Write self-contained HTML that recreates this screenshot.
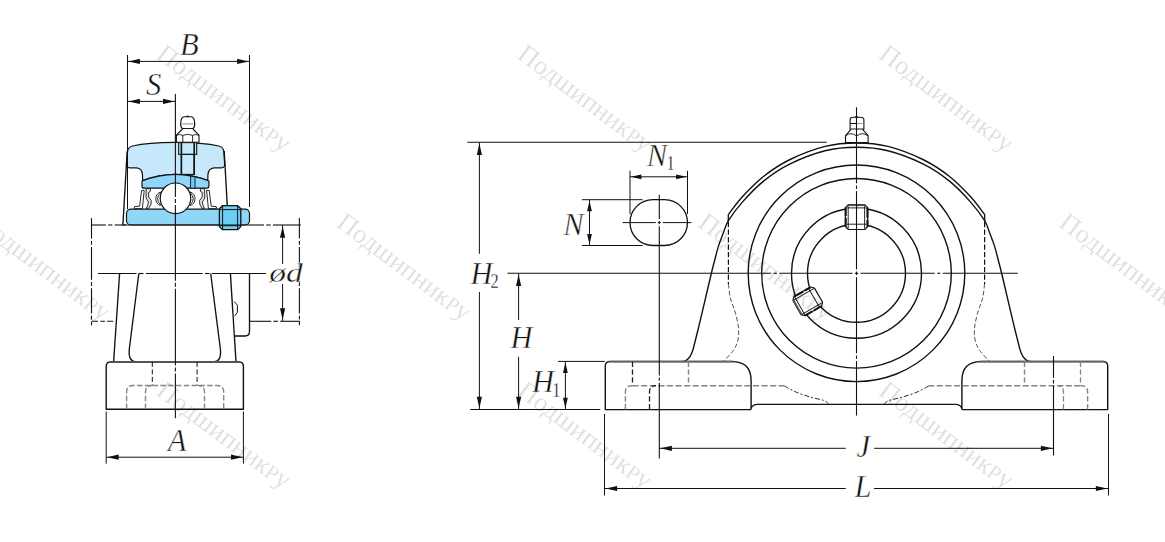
<!DOCTYPE html>
<html><head><meta charset="utf-8"><title>Pillow block dimensions</title>
<style>
html,body{margin:0;padding:0;background:#fff;}
body{width:1165px;height:542px;overflow:hidden;font-family:"Liberation Serif",serif;}
svg{display:block;}
</style></head><body>
<svg width="1165" height="542" viewBox="0 0 1165 542">
<rect width="1165" height="542" fill="#fff"/>
<path d="M127.5,152.5 Q127.5,147.2 132.5,146 C140,144.3 155,142.5 175.4,142.4 C196,142.5 211,144.3 218.8,146 Q223.8,147.2 223.9,152.5 L224.7,164.4 Q224.8,167.8 221.4,167.8 L214.2,167.8 Q208.2,168.2 207.9,175 L207.8,180.5 Q175.5,168 142.6,180.5 L142.5,175 Q142.2,168.2 136.6,167.8 L129.8,167.8 Q126.4,167.8 126.5,164.4 Z" stroke="#111" stroke-width="1.2" fill="#c6e8fb" stroke-linejoin="round" stroke-linecap="butt"/>
<rect x="178.7" y="142.6" width="18" height="11.8" fill="#c6e8fb" stroke="#111" stroke-width="1.1"/>
<rect x="181.4" y="154.4" width="12.8" height="20" fill="#c6e8fb" stroke="#111" stroke-width="1.1"/>
<line x1="181.4" y1="142.6" x2="181.4" y2="175" stroke="#111" stroke-width="1.6" stroke-linecap="butt"/>
<line x1="194.2" y1="142.6" x2="194.2" y2="175" stroke="#111" stroke-width="1.6" stroke-linecap="butt"/>
<path d="M142,186.5 L142,181 Q175.5,167.6 208.9,181 L208.9,186.5 Q208.9,188.2 207,188.2 L144,188.2 Q142,188.2 142,186.5 Z" stroke="#111" stroke-width="1.2" fill="#8fd6f8" stroke-linejoin="round" stroke-linecap="butt"/>
<rect x="190.6" y="176.6" width="4.4" height="11.6" fill="#6ccdf5" stroke="#111" stroke-width="0.9"/>
<rect x="126.5" y="209.2" width="123" height="15.8" rx="4.5" ry="4.5" fill="#8fd6f8" stroke="#111" stroke-width="1.2"/>
<polygon points="134.20,208.60 134.60,206.60 139.60,206.20 141.60,190.40 144.20,190.40 142.40,208.60" fill="#fff" stroke="#111" stroke-width="0.9" stroke-linejoin="round"/>
<polygon points="146.20,188.60 150.60,188.60 150.20,191.50 148.60,192.40 148.60,197.00 151.20,200.50 151.00,204.50 148.60,208.40 146.40,208.40 148.20,204.00 148.20,201.50 146.00,198.00 146.20,188.60" fill="#e6e6e6" stroke="#111" stroke-width="0.9" stroke-linejoin="round"/>
<path d="M160.30,192 A7.4,7.4 0 0 0 160.30,205.6 L160.30,204.3 A7,7 0 0 1 160.30,193.3 Z" fill="#fff" stroke="#111" stroke-width="0.9" stroke-linejoin="round"/>
<polygon points="216.60,208.60 216.20,206.60 211.20,206.20 209.20,190.40 206.60,190.40 208.40,208.60" fill="#fff" stroke="#111" stroke-width="0.9" stroke-linejoin="round"/>
<polygon points="204.60,188.60 200.20,188.60 200.60,191.50 202.20,192.40 202.20,197.00 199.60,200.50 199.80,204.50 202.20,208.40 204.40,208.40 202.60,204.00 202.60,201.50 204.80,198.00 204.60,188.60" fill="#e6e6e6" stroke="#111" stroke-width="0.9" stroke-linejoin="round"/>
<path d="M190.50,192 A7.4,7.4 0 0 1 190.50,205.6 L190.50,204.3 A7,7 0 0 0 190.50,193.3 Z" fill="#fff" stroke="#111" stroke-width="0.9" stroke-linejoin="round"/>
<circle cx="175.5" cy="198.3" r="15.3" stroke="#111" stroke-width="1.2" fill="#fff"/>
<path d="M222.4,205.7 L237.8,205.7 L240.8,208.7 L240.8,226.6 L237.8,229.6 L222.4,229.6 L219.4,226.6 L219.4,208.7 Z" stroke="#111" stroke-width="1.3" fill="#6ccdf5" stroke-linejoin="round" stroke-linecap="butt"/>
<line x1="222.6" y1="205.7" x2="222.6" y2="229.6" stroke="#111" stroke-width="1.0" stroke-linecap="butt"/>
<line x1="237.6" y1="205.7" x2="237.6" y2="229.6" stroke="#111" stroke-width="1.0" stroke-linecap="butt"/>
<line x1="219.4" y1="209.6" x2="240.8" y2="209.6" stroke="#111" stroke-width="1.0" stroke-linecap="butt"/>
<line x1="219.4" y1="225.7" x2="240.8" y2="225.7" stroke="#111" stroke-width="1.0" stroke-linecap="butt"/>
<path d="M182.5,128.8 Q180.1,126.5 180.79999999999998,122.5 Q181.1,117 184.2,116.8 L191.2,116.8 Q194.29999999999998,117 194.6,122.5 Q195.29999999999998,126.5 192.89999999999998,128.8 Z" stroke="#111" stroke-width="1.1" fill="#fff" stroke-linejoin="round" stroke-linecap="butt"/>
<path d="M186.1,116.8 Q187.7,115 189.29999999999998,116.8" stroke="#111" stroke-width="1.0" fill="none" stroke-linejoin="round" stroke-linecap="butt"/>
<line x1="182.2" y1="123.9" x2="193.2" y2="123.9" stroke="#999" stroke-width="1.2" stroke-linecap="butt"/>
<path d="M182.7,128.9 L192.7,128.9" stroke="#111" stroke-width="1.6" fill="none" stroke-linejoin="round" stroke-linecap="butt"/>
<path d="M182.5,129 L176.39999999999998,135.2 L176.39999999999998,142.2 L199.0,142.2 L199.0,135.2 L192.89999999999998,129" stroke="#111" stroke-width="1.1" fill="#fff" stroke-linejoin="round" stroke-linecap="butt"/>
<path d="M176.39999999999998,135.4 Q179.7,133.6 182.79999999999998,135.4 Q187.7,133.2 192.6,135.4 Q195.7,133.6 199.0,135.4" stroke="#111" stroke-width="0.9" fill="none" stroke-linejoin="round" stroke-linecap="butt"/>
<line x1="182.79999999999998" y1="135.4" x2="182.79999999999998" y2="142.2" stroke="#111" stroke-width="0.9" stroke-linecap="butt"/>
<line x1="192.6" y1="135.4" x2="192.6" y2="142.2" stroke="#111" stroke-width="0.9" stroke-linecap="butt"/>
<line x1="127.2" y1="151" x2="122.9" y2="225" stroke="#111" stroke-width="1.35" stroke-linecap="butt"/>
<line x1="224.2" y1="151" x2="227.3" y2="206" stroke="#111" stroke-width="1.35" stroke-linecap="butt"/>
<line x1="91.5" y1="225" x2="105.9" y2="225" stroke="#111" stroke-width="1.1" stroke-linecap="butt"/>
<line x1="108.2" y1="225" x2="112.39999999999999" y2="225" stroke="#111" stroke-width="1.1" stroke-linecap="butt"/>
<line x1="114.69999999999999" y1="225" x2="126" y2="225" stroke="#111" stroke-width="1.1" stroke-linecap="butt"/>
<line x1="249.5" y1="225" x2="264.0" y2="225" stroke="#111" stroke-width="1.1" stroke-linecap="butt"/>
<line x1="266.3" y1="225" x2="270.7" y2="225" stroke="#111" stroke-width="1.1" stroke-linecap="butt"/>
<line x1="273.0" y1="225" x2="300.8" y2="225" stroke="#111" stroke-width="1.1" stroke-linecap="butt"/>
<line x1="91.5" y1="218.1" x2="91.5" y2="238.6" stroke="#111" stroke-width="1.1" stroke-linecap="butt"/>
<line x1="91.5" y1="240.9" x2="91.5" y2="244.70000000000002" stroke="#111" stroke-width="1.1" stroke-linecap="butt"/>
<line x1="91.5" y1="247.00000000000003" x2="91.5" y2="279.8" stroke="#111" stroke-width="1.1" stroke-linecap="butt"/>
<line x1="91.5" y1="282.1" x2="91.5" y2="285.9" stroke="#111" stroke-width="1.1" stroke-linecap="butt"/>
<line x1="91.5" y1="288.2" x2="91.5" y2="313.40000000000003" stroke="#111" stroke-width="1.1" stroke-linecap="butt"/>
<line x1="91.5" y1="315.70000000000005" x2="91.5" y2="319.5" stroke="#111" stroke-width="1.1" stroke-linecap="butt"/>
<line x1="91.5" y1="321.8" x2="91.5" y2="325.3" stroke="#111" stroke-width="1.1" stroke-linecap="butt"/>
<line x1="299.4" y1="218.1" x2="299.4" y2="238.6" stroke="#111" stroke-width="1.1" stroke-linecap="butt"/>
<line x1="299.4" y1="240.9" x2="299.4" y2="244.70000000000002" stroke="#111" stroke-width="1.1" stroke-linecap="butt"/>
<line x1="299.4" y1="247.00000000000003" x2="299.4" y2="279.8" stroke="#111" stroke-width="1.1" stroke-linecap="butt"/>
<line x1="299.4" y1="282.1" x2="299.4" y2="285.9" stroke="#111" stroke-width="1.1" stroke-linecap="butt"/>
<line x1="299.4" y1="288.2" x2="299.4" y2="313.40000000000003" stroke="#111" stroke-width="1.1" stroke-linecap="butt"/>
<line x1="299.4" y1="315.70000000000005" x2="299.4" y2="319.5" stroke="#111" stroke-width="1.1" stroke-linecap="butt"/>
<line x1="299.4" y1="321.8" x2="299.4" y2="325.3" stroke="#111" stroke-width="1.1" stroke-linecap="butt"/>
<line x1="91.5" y1="321.3" x2="113.8" y2="321.3" stroke="#111" stroke-width="1.1" stroke-dasharray="6.5 2.3 4.6 2.3 6 2.3" stroke-linecap="butt"/>
<line x1="250" y1="321.3" x2="271.2" y2="321.3" stroke="#111" stroke-width="1.1" stroke-linecap="butt"/>
<line x1="273.5" y1="321.3" x2="277.9" y2="321.3" stroke="#111" stroke-width="1.1" stroke-linecap="butt"/>
<line x1="280.2" y1="321.3" x2="300" y2="321.3" stroke="#111" stroke-width="1.1" stroke-linecap="butt"/>
<line x1="122.5" y1="225" x2="250" y2="225" stroke="#111" stroke-width="1.2" stroke-linecap="butt"/>
<line x1="98" y1="273.5" x2="136.49999999999997" y2="273.5" stroke="#111" stroke-width="1.1" stroke-linecap="butt"/>
<line x1="138.89999999999998" y1="273.5" x2="143.5" y2="273.5" stroke="#111" stroke-width="1.1" stroke-linecap="butt"/>
<line x1="145.9" y1="273.5" x2="202.49999999999997" y2="273.5" stroke="#111" stroke-width="1.1" stroke-linecap="butt"/>
<line x1="204.89999999999998" y1="273.5" x2="209.5" y2="273.5" stroke="#111" stroke-width="1.1" stroke-linecap="butt"/>
<line x1="211.9" y1="273.5" x2="266" y2="273.5" stroke="#111" stroke-width="1.1" stroke-linecap="butt"/>
<line x1="119.6" y1="273.5" x2="113.6" y2="361.9" stroke="#111" stroke-width="1.35" stroke-linecap="butt"/>
<line x1="230.4" y1="273.5" x2="236" y2="361.9" stroke="#111" stroke-width="1.35" stroke-linecap="butt"/>
<path d="M138.8,273.5 L129.2,350 Q128.4,361.9 136.5,361.9" stroke="#111" stroke-width="1.35" fill="none" stroke-linejoin="round" stroke-linecap="butt"/>
<path d="M210.7,273.5 L220.5,350 Q221.4,361.9 213.4,361.9" stroke="#111" stroke-width="1.35" fill="none" stroke-linejoin="round" stroke-linecap="butt"/>
<path d="M249.5,273.5 L249.5,331.5 Q249.5,336 245,336 L234.6,336" stroke="#111" stroke-width="1.35" fill="none" stroke-linejoin="round" stroke-linecap="butt"/>
<path d="M234.2,301.6 L237.4,305.2 L237.4,312.2 L234.9,315.8" stroke="#111" stroke-width="1.0" fill="none" stroke-linejoin="round" stroke-linecap="butt"/>
<path d="M106.2,409.2 L106.2,366.5 Q106.2,361.9 110.8,361.9 L238.8,361.9 Q243.4,361.9 243.4,366.5 L243.4,409.2 Z" stroke="#111" stroke-width="1.4" fill="none" stroke-linejoin="round" stroke-linecap="butt"/>
<line x1="110" y1="361.9" x2="239.6" y2="361.9" stroke="#555" stroke-width="2.0" stroke-linecap="butt"/>
<line x1="152.3" y1="361.9" x2="152.3" y2="385.5" stroke="#111" stroke-width="1.0" stroke-dasharray="5 2.5" stroke-linecap="butt"/>
<line x1="197.1" y1="361.9" x2="197.1" y2="385.5" stroke="#111" stroke-width="1.0" stroke-dasharray="5 2.5" stroke-linecap="butt"/>
<path d="M126.6,409 L126.6,392 Q126.6,385.5 133,385.5 L217.3,385.5 Q223.7,385.5 223.7,392 L223.7,409" stroke="#858585" stroke-width="1.4" fill="none" stroke-dasharray="5.4 2.4" stroke-linejoin="round" stroke-linecap="butt"/>
<path d="M145.5,409 L145.5,392 Q145.5,385.5 152,385.5" stroke="#858585" stroke-width="1.4" fill="none" stroke-dasharray="5.4 2.4" stroke-linejoin="round" stroke-linecap="butt"/>
<path d="M204.5,409 L204.5,392 Q204.5,385.5 198,385.5" stroke="#858585" stroke-width="1.4" fill="none" stroke-dasharray="5.4 2.4" stroke-linejoin="round" stroke-linecap="butt"/>
<line x1="175.4" y1="94" x2="175.4" y2="197.0" stroke="#111" stroke-width="1.1" stroke-linecap="butt"/>
<line x1="175.4" y1="199.0" x2="175.4" y2="203.0" stroke="#111" stroke-width="1.1" stroke-linecap="butt"/>
<line x1="175.4" y1="205.0" x2="175.4" y2="280.7" stroke="#111" stroke-width="1.1" stroke-linecap="butt"/>
<line x1="175.4" y1="282.7" x2="175.4" y2="286.7" stroke="#111" stroke-width="1.1" stroke-linecap="butt"/>
<line x1="175.4" y1="288.7" x2="175.4" y2="365.5" stroke="#111" stroke-width="1.1" stroke-linecap="butt"/>
<line x1="175.4" y1="367.5" x2="175.4" y2="371.5" stroke="#111" stroke-width="1.1" stroke-linecap="butt"/>
<line x1="175.4" y1="373.5" x2="175.4" y2="418.3" stroke="#111" stroke-width="1.1" stroke-linecap="butt"/>
<line x1="127.5" y1="55" x2="127.5" y2="209" stroke="#111" stroke-width="1.0" stroke-linecap="butt"/>
<line x1="249.5" y1="55" x2="249.5" y2="207" stroke="#111" stroke-width="1.0" stroke-linecap="butt"/>
<line x1="127.5" y1="61.4" x2="249.5" y2="61.4" stroke="#111" stroke-width="1.0" stroke-linecap="butt"/>
<polygon points="128.40,61.40 139.90,58.80 139.90,64.00" fill="#111"/>
<polygon points="248.60,61.40 237.10,64.00 237.10,58.80" fill="#111"/>
<line x1="127.5" y1="101.4" x2="175.4" y2="101.4" stroke="#111" stroke-width="1.0" stroke-linecap="butt"/>
<polygon points="128.40,101.40 139.90,98.80 139.90,104.00" fill="#111"/>
<polygon points="174.50,101.40 163.00,104.00 163.00,98.80" fill="#111"/>
<text x="179.9" y="54.7" font-family="'Liberation Serif', serif" font-style="italic" font-size="30.6" fill="#111" stroke="#fff" stroke-width="0.45" text-anchor="start" >B</text>
<text x="146.1" y="94.7" font-family="'Liberation Serif', serif" font-style="italic" font-size="30.6" fill="#111" stroke="#fff" stroke-width="0.45" text-anchor="start" >S</text>
<line x1="106.2" y1="411.5" x2="106.2" y2="463.7" stroke="#111" stroke-width="1.0" stroke-linecap="butt"/>
<line x1="243.4" y1="411.5" x2="243.4" y2="463.7" stroke="#111" stroke-width="1.0" stroke-linecap="butt"/>
<line x1="106.2" y1="457.2" x2="243.4" y2="457.2" stroke="#111" stroke-width="1.0" stroke-linecap="butt"/>
<polygon points="107.10,457.20 118.60,454.60 118.60,459.80" fill="#111"/>
<polygon points="242.50,457.20 231.00,459.80 231.00,454.60" fill="#111"/>
<text x="167.7" y="450.8" font-family="'Liberation Serif', serif" font-style="italic" font-size="30.6" fill="#111" stroke="#fff" stroke-width="0.45" text-anchor="start" >A</text>
<line x1="282.6" y1="225" x2="282.6" y2="264" stroke="#111" stroke-width="1.0" stroke-linecap="butt"/>
<line x1="282.6" y1="284" x2="282.6" y2="321" stroke="#111" stroke-width="1.0" stroke-linecap="butt"/>
<polygon points="282.60,226.20 285.20,237.70 280.00,237.70" fill="#111"/>
<polygon points="282.60,319.80 280.00,308.30 285.20,308.30" fill="#111"/>
<text transform="translate(269.2,281.6) scale(1.12,0.92)" font-family="'Liberation Serif', serif" font-style="italic" font-size="30" fill="#111" stroke="#fff" stroke-width="0.45">ød</text>
<circle cx="856.5" cy="273.3" r="108.3" stroke="#111" stroke-width="1.4" fill="none"/>
<circle cx="856.5" cy="273.3" r="94.8" stroke="#111" stroke-width="1.4" fill="none"/>
<circle cx="856.5" cy="273.3" r="65.0" stroke="#111" stroke-width="1.4" fill="none"/>
<circle cx="856.5" cy="273.3" r="49.0" stroke="#111" stroke-width="1.4" fill="none"/>
<path d="M728.30,214.60 C730.72,211.55 736.88,202.70 742.80,196.30 C748.72,189.90 755.92,182.33 763.80,176.20 C771.68,170.07 779.88,164.47 790.10,159.50 C800.32,154.53 814.03,149.15 825.10,146.40 C836.17,143.65 846.03,143.00 856.50,143.00 C866.97,143.00 876.83,143.65 887.90,146.40 C898.97,149.15 912.68,154.53 922.90,159.50 C933.12,164.47 941.32,170.07 949.20,176.20 C957.08,182.33 964.28,189.90 970.20,196.30 C976.12,202.70 982.28,211.55 984.70,214.60" stroke="#111" stroke-width="1.4" fill="none" stroke-linejoin="round" stroke-linecap="butt"/>
<line x1="728.3" y1="214.3" x2="728.3" y2="221.6" stroke="#111" stroke-width="1.3" stroke-linecap="butt"/>
<line x1="984.7" y1="214.3" x2="984.7" y2="221.6" stroke="#111" stroke-width="1.3" stroke-linecap="butt"/>
<path d="M681.3,361.6 Q690.1,361.6 693.6,347.3 L693.60,347.30 C694.58,343.37 697.53,331.82 699.50,323.70 C701.47,315.58 703.43,306.97 705.40,298.60 C707.37,290.23 709.82,279.65 711.30,273.50 C712.78,267.35 713.07,266.38 714.30,261.70 C715.53,257.02 717.23,250.08 718.70,245.40 C720.17,240.72 721.48,237.73 723.10,233.60 C724.72,229.47 725.12,225.93 728.40,220.60 C731.68,215.27 736.90,208.22 742.80,201.60 C748.70,194.98 755.92,187.18 763.80,180.90 C771.68,174.62 779.88,168.92 790.10,163.90 C800.32,158.88 814.03,153.57 825.10,150.80 C836.17,148.03 846.03,147.30 856.50,147.30 C866.97,147.30 876.83,148.03 887.90,150.80 C898.97,153.57 912.68,158.88 922.90,163.90 C933.12,168.92 941.32,174.62 949.20,180.90 C957.08,187.18 964.30,194.98 970.20,201.60 C976.10,208.22 981.32,215.27 984.60,220.60 C987.88,225.93 988.28,229.47 989.90,233.60 C991.52,237.73 992.83,240.72 994.30,245.40 C995.77,250.08 997.47,257.02 998.70,261.70 C999.93,266.38 1000.22,267.35 1001.70,273.50 C1003.18,279.65 1005.63,290.23 1007.60,298.60 C1009.57,306.97 1011.53,315.58 1013.50,323.70 C1015.47,331.82 1018.42,343.37 1019.40,347.30 Q1022.9,361.6 1031.7,361.6" stroke="#111" stroke-width="1.4" fill="none" stroke-linejoin="round" stroke-linecap="butt"/>
<line x1="728.4" y1="222" x2="728.4" y2="284" stroke="#111" stroke-width="1.2" stroke-dasharray="5.2 2.3" stroke-linecap="butt"/>
<line x1="984.6" y1="222" x2="984.6" y2="284" stroke="#111" stroke-width="1.2" stroke-dasharray="5.2 2.3" stroke-linecap="butt"/>
<path d="M728.40,284.00 C728.75,286.43 729.32,293.72 730.50,298.60 C731.68,303.48 734.17,308.40 735.50,313.30 C736.83,318.20 738.10,323.57 738.50,328.00 C738.90,332.43 738.73,336.20 737.90,339.90 C737.07,343.60 735.93,346.58 733.50,350.20 C731.07,353.82 725.00,359.70 723.30,361.60" stroke="#333" stroke-width="0.85" fill="none" stroke-dasharray="4.6 2.2" stroke-linejoin="round" stroke-linecap="butt"/>
<path d="M984.60,284.00 C984.25,286.43 983.68,293.72 982.50,298.60 C981.32,303.48 978.83,308.40 977.50,313.30 C976.17,318.20 974.90,323.57 974.50,328.00 C974.10,332.43 974.27,336.20 975.10,339.90 C975.93,343.60 977.07,346.58 979.50,350.20 C981.93,353.82 988.00,359.70 989.70,361.60" stroke="#333" stroke-width="0.85" fill="none" stroke-dasharray="4.6 2.2" stroke-linejoin="round" stroke-linecap="butt"/>
<path d="M751.1,409.6 L605.3,409.6 L605.3,366 Q605.3,361.6 609.8,361.6 L732,361.6 Q751.1,361.6 751.1,380.5 L751.1,409.6" stroke="#111" stroke-width="1.4" fill="none" stroke-linejoin="round" stroke-linecap="butt"/>
<path d="M751.1,408.6 Q752.4,404.4 757.5,404.4" stroke="#111" stroke-width="1.3" fill="none" stroke-linejoin="round" stroke-linecap="butt"/>
<line x1="609.3" y1="361.6" x2="733" y2="361.6" stroke="#666" stroke-width="2.0" stroke-linecap="butt"/>
<line x1="632.5" y1="361.6" x2="632.5" y2="385.7" stroke="#222" stroke-width="1.3" stroke-dasharray="5.4 2.4" stroke-linecap="butt"/>
<line x1="688.5" y1="361.6" x2="688.5" y2="385.7" stroke="#858585" stroke-width="1.4" stroke-dasharray="5.4 2.4" stroke-linecap="butt"/>
<line x1="632.5" y1="385.7" x2="784.3" y2="385.7" stroke="#858585" stroke-width="1.5" stroke-dasharray="6.2 2.4" stroke-linecap="butt"/>
<path d="M625.4,409.4 L625.4,392 Q625.4,385.7 632,385.7" stroke="#858585" stroke-width="1.4" fill="none" stroke-dasharray="5.4 2.4" stroke-linejoin="round" stroke-linecap="butt"/>
<path d="M649.5,409.4 L649.5,392 Q649.5,385.7 656,385.7" stroke="#222" stroke-width="1.3" fill="none" stroke-dasharray="5.4 2.4" stroke-linejoin="round" stroke-linecap="butt"/>
<path d="M784.30,386.00 C786.42,387.08 792.38,390.58 797.00,392.50 C801.62,394.42 807.50,396.17 812.00,397.50 C816.50,398.83 821.23,399.48 824.00,400.50 C826.77,401.52 827.83,403.08 828.60,403.60" stroke="#111" stroke-width="0.9" fill="none" stroke-dasharray="5 2 2 2" stroke-linejoin="round" stroke-linecap="butt"/>
<path d="M961.9,409.6 L1107.7,409.6 L1107.7,366 Q1107.7,361.6 1103.2,361.6 L981.0,361.6 Q961.9,361.6 961.9,380.5 L961.9,409.6" stroke="#111" stroke-width="1.4" fill="none" stroke-linejoin="round" stroke-linecap="butt"/>
<path d="M961.9,408.6 Q960.6,404.4 955.5,404.4" stroke="#111" stroke-width="1.3" fill="none" stroke-linejoin="round" stroke-linecap="butt"/>
<line x1="1103.7" y1="361.6" x2="980.0" y2="361.6" stroke="#666" stroke-width="2.0" stroke-linecap="butt"/>
<line x1="1080.5" y1="361.6" x2="1080.5" y2="385.7" stroke="#858585" stroke-width="1.3" stroke-dasharray="5.4 2.4" stroke-linecap="butt"/>
<line x1="1024.5" y1="361.6" x2="1024.5" y2="385.7" stroke="#858585" stroke-width="1.4" stroke-dasharray="5.4 2.4" stroke-linecap="butt"/>
<line x1="1080.5" y1="385.7" x2="928.7" y2="385.7" stroke="#858585" stroke-width="1.5" stroke-dasharray="6.2 2.4" stroke-linecap="butt"/>
<path d="M1087.6,409.4 L1087.6,392 Q1087.6,385.7 1081.0,385.7" stroke="#858585" stroke-width="1.4" fill="none" stroke-dasharray="5.4 2.4" stroke-linejoin="round" stroke-linecap="butt"/>
<path d="M1063.5,409.4 L1063.5,392 Q1063.5,385.7 1057.0,385.7" stroke="#858585" stroke-width="1.3" fill="none" stroke-dasharray="5.4 2.4" stroke-linejoin="round" stroke-linecap="butt"/>
<path d="M928.70,386.00 C926.58,387.08 920.62,390.58 916.00,392.50 C911.38,394.42 905.50,396.17 901.00,397.50 C896.50,398.83 891.77,399.48 889.00,400.50 C886.23,401.52 885.17,403.08 884.40,403.60" stroke="#111" stroke-width="0.9" fill="none" stroke-dasharray="5 2 2 2" stroke-linejoin="round" stroke-linecap="butt"/>
<line x1="757.3" y1="404.4" x2="955.7" y2="404.4" stroke="#111" stroke-width="1.4" stroke-linecap="butt"/>
<path d="M848.4,204.6 L864.7,204.6 L867.7,207.6 L867.7,226.5 L864.7,229.5 L848.4,229.5 L845.4,226.5 L845.4,207.6 Z" fill="#fff" stroke="#111" stroke-width="1.2" stroke-linejoin="round"/>
<line x1="845.6999999999999" y1="207.6" x2="845.6999999999999" y2="216.0" stroke="#111" stroke-width="2.0" stroke-linecap="butt"/>
<line x1="845.6999999999999" y1="218.0" x2="845.6999999999999" y2="226.5" stroke="#111" stroke-width="2.0" stroke-linecap="butt"/>
<line x1="867.4000000000001" y1="207.6" x2="867.4000000000001" y2="217.8" stroke="#111" stroke-width="2.0" stroke-linecap="butt"/>
<line x1="867.4000000000001" y1="219.8" x2="867.4000000000001" y2="226.5" stroke="#111" stroke-width="2.0" stroke-linecap="butt"/>
<line x1="848.2" y1="205.6" x2="848.2" y2="228.5" stroke="#111" stroke-width="0.9" stroke-linecap="butt"/>
<line x1="864.6" y1="205.6" x2="864.6" y2="228.5" stroke="#111" stroke-width="0.9" stroke-linecap="butt"/>
<line x1="846.4" y1="207.9" x2="866.7" y2="207.9" stroke="#111" stroke-width="0.9" stroke-linecap="butt"/>
<line x1="846.4" y1="224.2" x2="866.7" y2="224.2" stroke="#111" stroke-width="0.9" stroke-linecap="butt"/>
<line x1="848.4" y1="205.2" x2="864.7" y2="205.2" stroke="#555" stroke-width="1.8" stroke-linecap="butt"/>
<g transform="rotate(-120 856.5 273.3)">
<path d="M848.4,204.6 L864.7,204.6 L867.7,207.6 L867.7,226.5 L864.7,229.5 L848.4,229.5 L845.4,226.5 L845.4,207.6 Z" fill="#fff" stroke="#111" stroke-width="1.2" stroke-linejoin="round"/>
<line x1="845.6999999999999" y1="207.6" x2="845.6999999999999" y2="216.0" stroke="#111" stroke-width="2.0" stroke-linecap="butt"/>
<line x1="845.6999999999999" y1="218.0" x2="845.6999999999999" y2="226.5" stroke="#111" stroke-width="2.0" stroke-linecap="butt"/>
<line x1="867.4000000000001" y1="207.6" x2="867.4000000000001" y2="217.8" stroke="#111" stroke-width="2.0" stroke-linecap="butt"/>
<line x1="867.4000000000001" y1="219.8" x2="867.4000000000001" y2="226.5" stroke="#111" stroke-width="2.0" stroke-linecap="butt"/>
<line x1="848.2" y1="205.6" x2="848.2" y2="228.5" stroke="#111" stroke-width="0.9" stroke-linecap="butt"/>
<line x1="864.6" y1="205.6" x2="864.6" y2="228.5" stroke="#111" stroke-width="0.9" stroke-linecap="butt"/>
<line x1="846.4" y1="207.9" x2="866.7" y2="207.9" stroke="#111" stroke-width="0.9" stroke-linecap="butt"/>
<line x1="846.4" y1="224.2" x2="866.7" y2="224.2" stroke="#111" stroke-width="0.9" stroke-linecap="butt"/>
<line x1="848.4" y1="205.2" x2="864.7" y2="205.2" stroke="#555" stroke-width="1.8" stroke-linecap="butt"/>
</g>
<path d="M850.1,129.3 L850.1,119.8 Q850.1,117.2 853,117.2 L860,117.2 Q863.9,117.2 863.9,119.8 L863.9,129.3 Z" stroke="#111" stroke-width="1.1" fill="#fff" stroke-linejoin="round" stroke-linecap="butt"/>
<path d="M855,117.2 Q856.5,115.6 858,117.2" stroke="#111" stroke-width="1.0" fill="none" stroke-linejoin="round" stroke-linecap="butt"/>
<line x1="850.4" y1="123.5" x2="856" y2="123.5" stroke="#111" stroke-width="1.1" stroke-linecap="butt"/>
<line x1="857" y1="123.5" x2="862.4" y2="123.5" stroke="#999" stroke-width="1.1" stroke-linecap="butt"/>
<line x1="850.4" y1="129.3" x2="863.6" y2="129.3" stroke="#111" stroke-width="1.2" stroke-linecap="butt"/>
<path d="M851,129.4 L845.5,135.6 L845.5,142.6 L868.1,142.6 L868.1,135.6 L862.6,129.4" stroke="#111" stroke-width="1.1" fill="#fff" stroke-linejoin="round" stroke-linecap="butt"/>
<path d="M845.6,135.8 Q851,131.5 856.5,136 Q862,131.5 868,135.8" stroke="#111" stroke-width="0.9" fill="none" stroke-linejoin="round" stroke-linecap="butt"/>
<line x1="507.5" y1="273.3" x2="771.3" y2="273.3" stroke="#111" stroke-width="1.1" stroke-linecap="butt"/>
<line x1="773.6999999999999" y1="273.3" x2="776.9" y2="273.3" stroke="#111" stroke-width="1.1" stroke-linecap="butt"/>
<line x1="779.3" y1="273.3" x2="852.5" y2="273.3" stroke="#111" stroke-width="1.1" stroke-linecap="butt"/>
<line x1="854.9" y1="273.3" x2="858.1" y2="273.3" stroke="#111" stroke-width="1.1" stroke-linecap="butt"/>
<line x1="860.5" y1="273.3" x2="934.8" y2="273.3" stroke="#111" stroke-width="1.1" stroke-linecap="butt"/>
<line x1="937.1999999999999" y1="273.3" x2="940.4" y2="273.3" stroke="#111" stroke-width="1.1" stroke-linecap="butt"/>
<line x1="942.8" y1="273.3" x2="1017.8" y2="273.3" stroke="#111" stroke-width="1.1" stroke-linecap="butt"/>
<line x1="856.5" y1="107.3" x2="856.5" y2="183.3" stroke="#111" stroke-width="1.1" stroke-linecap="butt"/>
<line x1="856.5" y1="185.5" x2="856.5" y2="188.89999999999998" stroke="#111" stroke-width="1.1" stroke-linecap="butt"/>
<line x1="856.5" y1="191.09999999999997" x2="856.5" y2="269.40000000000003" stroke="#111" stroke-width="1.1" stroke-linecap="butt"/>
<line x1="856.5" y1="271.6" x2="856.5" y2="275.0" stroke="#111" stroke-width="1.1" stroke-linecap="butt"/>
<line x1="856.5" y1="277.2" x2="856.5" y2="353.3" stroke="#111" stroke-width="1.1" stroke-linecap="butt"/>
<line x1="856.5" y1="355.5" x2="856.5" y2="358.9" stroke="#111" stroke-width="1.1" stroke-linecap="butt"/>
<line x1="856.5" y1="361.09999999999997" x2="856.5" y2="415.6" stroke="#111" stroke-width="1.1" stroke-linecap="butt"/>
<path d="M652.9,199.7 L664.6,199.7 A22.900000000000006,22.900000000000006 0 0 1 664.6,245.5 L652.9,245.5 A22.900000000000006,22.900000000000006 0 0 1 652.9,199.7 Z" stroke="#111" stroke-width="1.3" fill="none" stroke-linejoin="round" stroke-linecap="butt"/>
<line x1="622.7" y1="222.6" x2="655.8" y2="222.6" stroke="#111" stroke-width="1.0" stroke-linecap="butt"/>
<line x1="657.8" y1="222.6" x2="660.8" y2="222.6" stroke="#111" stroke-width="1.0" stroke-linecap="butt"/>
<line x1="662.8" y1="222.6" x2="691.4" y2="222.6" stroke="#111" stroke-width="1.0" stroke-linecap="butt"/>
<line x1="659.3" y1="194.7" x2="659.3" y2="218.9" stroke="#111" stroke-width="1.1" stroke-linecap="butt"/>
<line x1="659.3" y1="220.9" x2="659.3" y2="224.29999999999998" stroke="#111" stroke-width="1.1" stroke-linecap="butt"/>
<line x1="659.3" y1="226.29999999999998" x2="659.3" y2="375.40000000000003" stroke="#111" stroke-width="1.1" stroke-linecap="butt"/>
<line x1="659.3" y1="377.40000000000003" x2="659.3" y2="380.8" stroke="#111" stroke-width="1.1" stroke-linecap="butt"/>
<line x1="659.3" y1="382.8" x2="659.3" y2="458.6" stroke="#111" stroke-width="1.1" stroke-linecap="butt"/>
<line x1="630" y1="170.8" x2="630" y2="214" stroke="#111" stroke-width="1.0" stroke-linecap="butt"/>
<line x1="687.5" y1="170.8" x2="687.5" y2="214" stroke="#111" stroke-width="1.0" stroke-linecap="butt"/>
<line x1="630" y1="176.8" x2="687.5" y2="176.8" stroke="#111" stroke-width="1.0" stroke-linecap="butt"/>
<polygon points="630.90,176.80 641.40,174.40 641.40,179.20" fill="#111"/>
<polygon points="686.60,176.80 676.10,179.20 676.10,174.40" fill="#111"/>
<text x="646.8" y="165.9" font-family="'Liberation Serif', serif" font-style="italic" font-size="30.6" fill="#111" stroke="#fff" stroke-width="0.45" text-anchor="start" >N</text>
<text transform="translate(666.4,170.4) scale(0.78,1)" font-family="'Liberation Serif', serif" font-size="21" fill="#111" stroke="#fff" stroke-width="0.3">1</text>
<line x1="581.9" y1="199.7" x2="642.6" y2="199.7" stroke="#111" stroke-width="1.0" stroke-linecap="butt"/>
<line x1="581.9" y1="245.5" x2="642.6" y2="245.5" stroke="#111" stroke-width="1.0" stroke-linecap="butt"/>
<line x1="589.5" y1="199.7" x2="589.5" y2="245.5" stroke="#111" stroke-width="1.0" stroke-linecap="butt"/>
<polygon points="589.50,200.80 591.90,211.30 587.10,211.30" fill="#111"/>
<polygon points="589.50,244.40 587.10,233.90 591.90,233.90" fill="#111"/>
<text x="563.2" y="234.7" font-family="'Liberation Serif', serif" font-style="italic" font-size="30.6" fill="#111" stroke="#fff" stroke-width="0.45" text-anchor="start" >N</text>
<line x1="467.3" y1="142.2" x2="826.7" y2="142.2" stroke="#111" stroke-width="1.1" stroke-linecap="butt"/>
<line x1="470.3" y1="409.5" x2="600.2" y2="409.5" stroke="#111" stroke-width="1.1" stroke-linecap="butt"/>
<line x1="479.4" y1="142.2" x2="479.4" y2="253.8" stroke="#111" stroke-width="1.0" stroke-linecap="butt"/>
<line x1="479.4" y1="292" x2="479.4" y2="409.5" stroke="#111" stroke-width="1.0" stroke-linecap="butt"/>
<polygon points="479.40,143.40 482.00,154.90 476.80,154.90" fill="#111"/>
<polygon points="479.40,408.30 476.80,396.80 482.00,396.80" fill="#111"/>
<text x="470.5" y="283.8" font-family="'Liberation Serif', serif" font-style="italic" font-size="30.6" fill="#111" stroke="#fff" stroke-width="0.45" text-anchor="start" >H</text>
<text transform="translate(490.6,288.3) scale(0.78,1)" font-family="'Liberation Serif', serif" font-size="21" fill="#111" stroke="#fff" stroke-width="0.3">2</text>
<line x1="518.6" y1="273.3" x2="518.6" y2="320" stroke="#111" stroke-width="1.0" stroke-linecap="butt"/>
<line x1="518.6" y1="356.8" x2="518.6" y2="409.5" stroke="#111" stroke-width="1.0" stroke-linecap="butt"/>
<polygon points="518.60,274.50 521.20,286.00 516.00,286.00" fill="#111"/>
<polygon points="518.60,408.30 516.00,396.80 521.20,396.80" fill="#111"/>
<text x="510.5" y="347.8" font-family="'Liberation Serif', serif" font-style="italic" font-size="30.6" fill="#111" stroke="#fff" stroke-width="0.45" text-anchor="start" >H</text>
<line x1="558" y1="361.4" x2="604.8" y2="361.4" stroke="#111" stroke-width="1.0" stroke-linecap="butt"/>
<line x1="565.4" y1="361.4" x2="565.4" y2="409.5" stroke="#111" stroke-width="1.0" stroke-linecap="butt"/>
<polygon points="565.40,362.60 567.80,373.10 563.00,373.10" fill="#111"/>
<polygon points="565.40,408.30 563.00,397.80 567.80,397.80" fill="#111"/>
<text x="532.1" y="392.1" font-family="'Liberation Serif', serif" font-style="italic" font-size="30.6" fill="#111" stroke="#fff" stroke-width="0.45" text-anchor="start" >H</text>
<text transform="translate(552.2,397.4) scale(0.78,1)" font-family="'Liberation Serif', serif" font-size="21" fill="#111" stroke="#fff" stroke-width="0.3">1</text>
<line x1="1053.5" y1="356" x2="1053.5" y2="377.9" stroke="#111" stroke-width="1.1" stroke-linecap="butt"/>
<line x1="1053.5" y1="379.9" x2="1053.5" y2="383.5" stroke="#111" stroke-width="1.1" stroke-linecap="butt"/>
<line x1="1053.5" y1="385.5" x2="1053.5" y2="455.5" stroke="#111" stroke-width="1.1" stroke-linecap="butt"/>
<line x1="659.3" y1="448.3" x2="845.7" y2="448.3" stroke="#111" stroke-width="1.0" stroke-linecap="butt"/>
<line x1="874" y1="448.3" x2="1053.5" y2="448.3" stroke="#111" stroke-width="1.0" stroke-linecap="butt"/>
<polygon points="660.40,448.30 671.90,445.70 671.90,450.90" fill="#111"/>
<polygon points="1052.40,448.30 1040.90,450.90 1040.90,445.70" fill="#111"/>
<text x="856.4" y="456.6" font-family="'Liberation Serif', serif" font-style="italic" font-size="30.6" fill="#111" stroke="#fff" stroke-width="0.45" text-anchor="start" >J</text>
<line x1="604.5" y1="414" x2="604.5" y2="495.5" stroke="#111" stroke-width="1.0" stroke-linecap="butt"/>
<line x1="1108.5" y1="414" x2="1108.5" y2="495.5" stroke="#111" stroke-width="1.0" stroke-linecap="butt"/>
<line x1="604.5" y1="488.5" x2="845.7" y2="488.5" stroke="#111" stroke-width="1.0" stroke-linecap="butt"/>
<line x1="874" y1="488.5" x2="1108.5" y2="488.5" stroke="#111" stroke-width="1.0" stroke-linecap="butt"/>
<polygon points="605.60,488.50 617.10,485.90 617.10,491.10" fill="#111"/>
<polygon points="1107.40,488.50 1095.90,491.10 1095.90,485.90" fill="#111"/>
<text x="854.5" y="496.8" font-family="'Liberation Serif', serif" font-style="italic" font-size="30.6" fill="#111" stroke="#fff" stroke-width="0.45" text-anchor="start" >L</text>
<text transform="translate(-206.29999999999998,57.3) rotate(36.8)" font-family="'Liberation Serif', serif" font-size="26.5" fill="#000" fill-opacity="0.135">Подшипник<tspan font-size="21.2">Р</tspan>у</text>
<text transform="translate(-206.29999999999998,394.1) rotate(36.8)" font-family="'Liberation Serif', serif" font-size="26.5" fill="#000" fill-opacity="0.135">Подшипник<tspan font-size="21.2">Р</tspan>у</text>
<text transform="translate(-387.2,225.7) rotate(36.8)" font-family="'Liberation Serif', serif" font-size="26.5" fill="#000" fill-opacity="0.135">Подшипник<tspan font-size="21.2">Р</tspan>у</text>
<text transform="translate(154.9,57.3) rotate(36.8)" font-family="'Liberation Serif', serif" font-size="26.5" fill="#000" fill-opacity="0.135">Подшипник<tspan font-size="21.2">Р</tspan>у</text>
<text transform="translate(154.9,394.1) rotate(36.8)" font-family="'Liberation Serif', serif" font-size="26.5" fill="#000" fill-opacity="0.135">Подшипник<tspan font-size="21.2">Р</tspan>у</text>
<text transform="translate(-26.0,225.7) rotate(36.8)" font-family="'Liberation Serif', serif" font-size="26.5" fill="#000" fill-opacity="0.135">Подшипник<tspan font-size="21.2">Р</tspan>у</text>
<text transform="translate(516.1,57.3) rotate(36.8)" font-family="'Liberation Serif', serif" font-size="26.5" fill="#000" fill-opacity="0.135">Подшипник<tspan font-size="21.2">Р</tspan>у</text>
<text transform="translate(516.1,394.1) rotate(36.8)" font-family="'Liberation Serif', serif" font-size="26.5" fill="#000" fill-opacity="0.135">Подшипник<tspan font-size="21.2">Р</tspan>у</text>
<text transform="translate(335.2,225.7) rotate(36.8)" font-family="'Liberation Serif', serif" font-size="26.5" fill="#000" fill-opacity="0.135">Подшипник<tspan font-size="21.2">Р</tspan>у</text>
<text transform="translate(877.3,57.3) rotate(36.8)" font-family="'Liberation Serif', serif" font-size="26.5" fill="#000" fill-opacity="0.135">Подшипник<tspan font-size="21.2">Р</tspan>у</text>
<text transform="translate(877.3,394.1) rotate(36.8)" font-family="'Liberation Serif', serif" font-size="26.5" fill="#000" fill-opacity="0.135">Подшипник<tspan font-size="21.2">Р</tspan>у</text>
<text transform="translate(696.4,225.7) rotate(36.8)" font-family="'Liberation Serif', serif" font-size="26.5" fill="#000" fill-opacity="0.135">Подшипник<tspan font-size="21.2">Р</tspan>у</text>
<text transform="translate(1238.5,57.3) rotate(36.8)" font-family="'Liberation Serif', serif" font-size="26.5" fill="#000" fill-opacity="0.135">Подшипник<tspan font-size="21.2">Р</tspan>у</text>
<text transform="translate(1238.5,394.1) rotate(36.8)" font-family="'Liberation Serif', serif" font-size="26.5" fill="#000" fill-opacity="0.135">Подшипник<tspan font-size="21.2">Р</tspan>у</text>
<text transform="translate(1057.6,225.7) rotate(36.8)" font-family="'Liberation Serif', serif" font-size="26.5" fill="#000" fill-opacity="0.135">Подшипник<tspan font-size="21.2">Р</tspan>у</text>
</svg>
</body></html>
